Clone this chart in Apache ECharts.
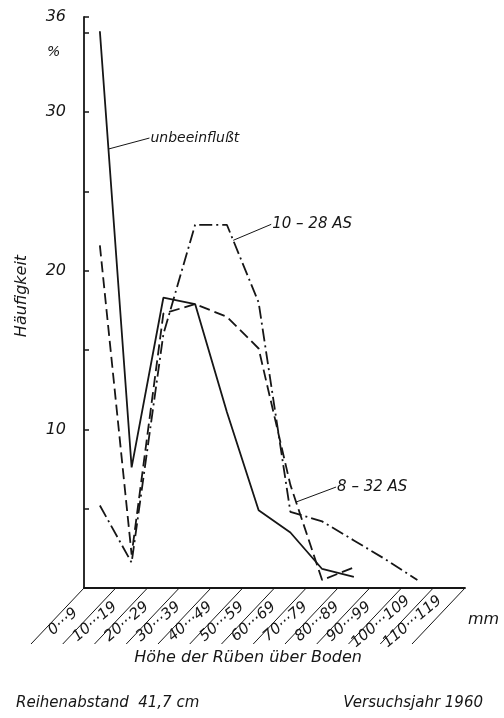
<!DOCTYPE html>
<html><head><meta charset="utf-8">
<script src="https://cdn.jsdelivr.net/npm/echarts@6/dist/echarts.min.js"></script>
<style>html,body{margin:0;padding:0;background:#fff}#c{width:504px;height:718px}</style>
</head><body><div id="c"></div>
<script>
// ---- data ----
const categories = ['0···9','10···19','20···29','30···39','40···49','50···59','60···69','70···79','80···89','90···99','100···109','110···119'];
const yTickLabels = [10, 20, 30, 36];
const unbeeinflusst = [35.1, 7.6, 18.3, 17.9, 11.1, 4.9, 3.5, 1.2, 0.7, null, null, null];
const as8_32  = [21.6, 2.1, 17.3, 17.9, 17.1, 15.1, 6.5, 0.5, 1.3, null, null, null];
const as10_28 = [5.2, 1.6, 16.0, 22.9, 22.9, 18.0, 4.8, 4.2, 3.0, 1.8, 0.5, null];

const INK = '#161616';
const FONT = 'DejaVu Sans';
const chart = echarts.init(document.getElementById('c'), null, {renderer: 'canvas'});

chart.setOption({
  animation: false,
  backgroundColor: '#fff',
  grid: {left: 84, right: 39, top: 17, bottom: 130, containLabel: false, outerBoundsMode: 'none'},
  xAxis: {
    type: 'category', data: categories, boundaryGap: true,
    axisLine: {lineStyle: {color: INK, width: 1.8}},
    axisTick: {inside: true, length: 4, lineStyle: {color: INK, width: 1.5}},
    axisLabel: {
      interval: 0, rotate: 40, align: 'center', verticalAlign: 'middle',
      margin: 3, padding: [0, 96, 0, 0],
      color: INK, fontFamily: FONT, fontStyle: 'italic', fontSize: 15
    },
    splitLine: {show: false}
  },
  yAxis: {
    type: 'value', min: 0, max: 36, interval: 5,
    axisLine: {show: true, lineStyle: {color: INK, width: 1.8}},
    axisTick: {show: true, inside: true, length: 5, lineStyle: {color: INK, width: 1.5}},
    axisLabel: {
      margin: 18, color: INK, fontFamily: FONT, fontStyle: 'italic', fontSize: 16,
      formatter: v => yTickLabels.indexOf(v) >= 0 ? String(v) : ''
    },
    splitLine: {show: false}
  },
  series: [
    {name: 'unbeeinflußt', type: 'line', data: unbeeinflusst, symbol: 'none',
     lineStyle: {color: INK, width: 1.8, type: 'solid'}},
    {name: '8 – 32 AS', type: 'line', data: as8_32, symbol: 'none',
     lineStyle: {color: INK, width: 1.8, type: [11, 5]}},
    {name: '10 – 28 AS', type: 'line', data: as10_28, symbol: 'none',
     lineStyle: {color: INK, width: 1.8, type: [13, 4, 2, 4]}}
  ]
});

// ---- decorations computed from the axes ----
function px(i, v) { return chart.convertToPixel({xAxisIndex: 0, yAxisIndex: 0}, [i, v]); }
function onSeg(data, i, t) {
  const a = px(i, data[i]), b = px(i + 1, data[i + 1]);
  return [a[0] + (b[0] - a[0]) * t, a[1] + (b[1] - a[1]) * t];
}
const p0 = px(0, 0), p1 = px(1, 0);
const band = p1[0] - p0[0];
const baseY = p0[1];
const g = [];
for (let i = 0; i <= categories.length; i++) {
  const xb = p0[0] - band / 2 + i * band;
  g.push({type: 'line', shape: {x1: xb, y1: baseY, x2: xb - 53, y2: baseY + 56},
          style: {stroke: INK, lineWidth: 1}, silent: true});
}
function txt(x, y, text, size, align, valign, rot) {
  return {type: 'text', x: x, y: y, rotation: rot || 0,
          style: {text: text, fill: INK, font: 'italic ' + size + 'px "' + FONT + '"',
                  textAlign: align || 'left', textVerticalAlign: valign || 'middle'}, silent: true};
}
function leader(start, dx, dy, label, size) {
  g.push({type: 'line', shape: {x1: start[0], y1: start[1], x2: start[0] + dx, y2: start[1] + dy},
          style: {stroke: INK, lineWidth: 1}, silent: true});
  g.push(txt(start[0] + dx + 1, start[1] + dy, label, size, 'left', 'middle'));
}
leader(onSeg(unbeeinflusst, 0, 0.27), 41, -11, 'unbeeinflußt', 14);
leader(onSeg(as10_28, 4, 0.2), 38, -16, '10 – 28 AS', 15);
leader(onSeg(as8_32, 6, 0.18), 40, -15, '8 – 32 AS', 15);

g.push(txt(47, 52, '%', 14, 'left', 'middle'));
g.push(txt(22, 296, 'Häufigkeit', 16, 'center', 'middle', Math.PI / 2));
g.push(txt(468, 620, 'mm', 16, 'left', 'middle'));
g.push(txt(248, 658, 'Höhe der Rüben über Boden', 16, 'center', 'middle'));
g.push(txt(16, 703, 'Reihenabstand  41,7 cm', 15, 'left', 'middle'));
g.push(txt(483, 703, 'Versuchsjahr 1960', 15, 'right', 'middle'));
chart.setOption({graphic: g});
</script></body></html>
